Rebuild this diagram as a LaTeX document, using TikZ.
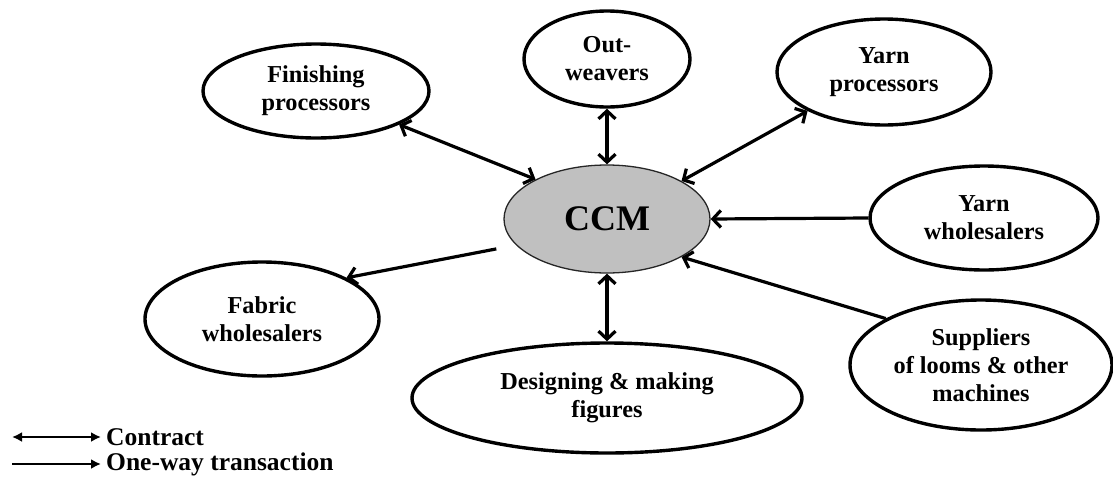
\documentclass[tikz,border=0pt]{standalone}
\usepackage{fontspec}
\setmainfont{Liberation Serif}
\usetikzlibrary{arrows.meta,shapes.geometric}
\definecolor{ccmgray}{RGB}{192,192,192}

\begin{document}
\begin{tikzpicture}[x=1pt,y=-1pt]
            \tikzstyle{every node}+=[inner sep=0pt, align=center, font=\bfseries\fontsize{24.3}{28}\selectfont]
            \tikzstyle{party}=[ellipse, draw=black, line width=3.4pt]
            \tikzstyle{contract}=[line width=3.2pt, {Straight Barb[length=8pt,width=17pt]}-{Straight Barb[length=8pt,width=17pt]}]
            \tikzstyle{oneway}=[line width=3.2pt, -{Straight Barb[length=8pt,width=17pt]}]
            \tikzstyle{keyline}=[line width=2.4pt]
            \tikzstyle{keytext}=[anchor=west, font=\bfseries\fontsize{25.5}{28}\selectfont]
            \useasboundingbox (0,0) rectangle (1113,490);
            % centre
            \node [ellipse, draw=black!85, line width=1.3pt, fill=ccmgray, minimum width=206pt, minimum height=108pt, font=\bfseries\fontsize{36}{40}\selectfont] (ccm) at (607,219) {CCM};
            % partners
            \node [party, minimum width=226pt, minimum height=94pt] (fin) at (316,91) {Finishing\\processors};
            \node [party, minimum width=166pt, minimum height=96pt] (ow) at (607,59) {Out-\\weavers};
            \node [party, minimum width=214pt, minimum height=106pt] (yp) at (884,72) {Yarn\\processors};
            \node [party, minimum width=228pt, minimum height=104pt] (yw) at (984,218) {Yarn\\wholesalers};
            \node [party, minimum width=234pt, minimum height=114pt] (fab) at (262,319) {Fabric\\wholesalers};
            \node [party, minimum width=390pt, minimum height=110pt] (des) at (607,398) {Designing \& making\\figures};
            \node [party, minimum width=262pt, minimum height=130pt] (sup) at (981,365) {Suppliers\\of looms \& other\\machines};
            % links
            \draw [contract] (fin.-22) -- (ccm.151);
            \draw [contract] (ow.south) -- (ccm.north);
            \draw [contract] (yp.-153) -- (ccm.27);
            \draw [oneway] (yw.west) -- (ccm.east);
            \draw [oneway] (sup.154) -- (ccm.-27);
            \draw [oneway, shorten <=20pt] (ccm.196) -- (fab.26);
            \draw [contract] (ccm.south) -- (des.north);
            % key
            \coordinate (k1) at (12,437);
            \coordinate (k2) at (12,464);
            \node [keytext] (kc) at (106,437) {Contract};
            \node [keytext] (ko) at (106,464) {One-way transaction};
            \draw [keyline, {Latex[length=10pt,width=10pt]}-{Latex[length=10pt,width=10pt]}] (k1) -- ([xshift=-5pt]kc.west);
            \draw [keyline, -{Latex[length=10pt,width=10pt]}] (k2) -- ([xshift=-5pt]ko.west);
\end{tikzpicture}
\end{document}
